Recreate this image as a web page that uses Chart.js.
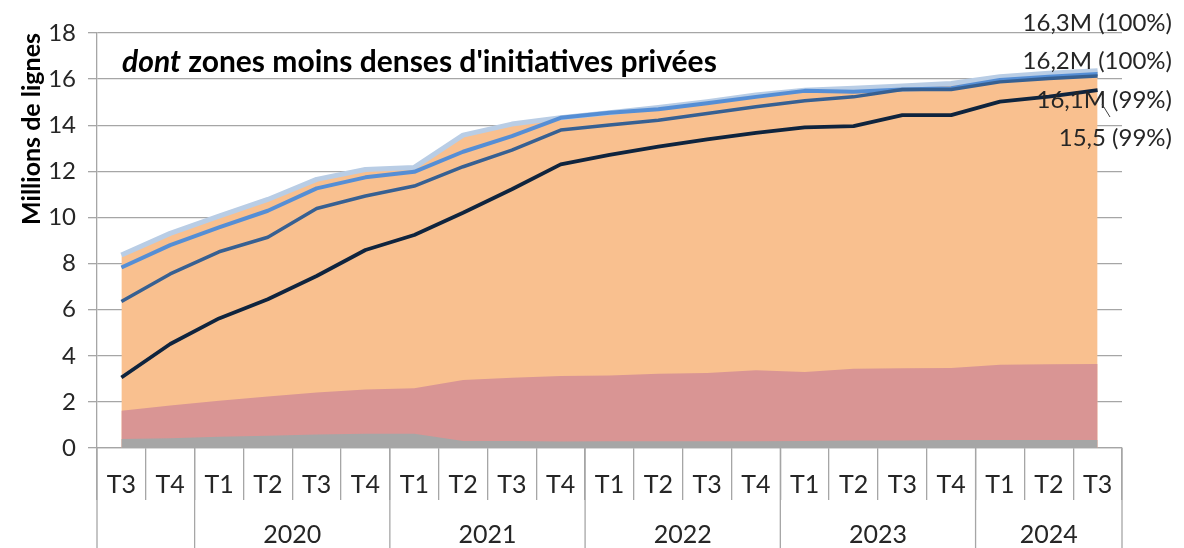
<!DOCTYPE html>
<html>
<head>
<meta charset="utf-8">
<script src="https://cdn.jsdelivr.net/npm/chart.js@4"></script>
<style>
  body { margin: 0; background: #fff; }
  canvas { display: block; }
</style>
</head>
<body>
<canvas id="chart" width="1184" height="548"></canvas>
<script>
// Quarters from T3 2019 to T3 2024
const quarters = ["T3", "T4", "T1", "T2", "T3", "T4", "T1", "T2", "T3", "T4", "T1", "T2", "T3", "T4", "T1", "T2", "T3", "T4", "T1", "T2", "T3"];
const yearLabels = ["", "2020", "2021", "2022", "2023", "2024"];
const yearSpans = [2, 4, 4, 4, 4, 3];

// Areas (millions de lignes)
const greyArea = [0.39, 0.42, 0.49, 0.53, 0.59, 0.62, 0.62, 0.30, 0.30, 0.28, 0.29, 0.29, 0.29, 0.29, 0.30, 0.32, 0.32, 0.35, 0.35, 0.35, 0.35];
const pinkArea = [1.62, 1.84, 2.05, 2.23, 2.41, 2.54, 2.59, 2.95, 3.05, 3.12, 3.14, 3.22, 3.25, 3.37, 3.30, 3.44, 3.46, 3.47, 3.61, 3.63, 3.64];

// Lines
const totalLine = [8.37, 9.31, 10.06, 10.78, 11.65, 12.08, 12.17, 13.57, 14.05, 14.32, 14.54, 14.77, 15.02, 15.31, 15.52, 15.60, 15.70, 15.81, 16.10, 16.25, 16.36];
const lineBlue = [7.83, 8.80, 9.57, 10.29, 11.26, 11.74, 11.98, 12.85, 13.53, 14.32, 14.54, 14.69, 14.95, 15.23, 15.49, 15.45, 15.55, 15.60, 15.96, 16.10, 16.22];
const lineDarkBlue = [6.35, 7.55, 8.51, 9.14, 10.39, 10.93, 11.36, 12.20, 12.92, 13.79, 14.01, 14.22, 14.51, 14.80, 15.06, 15.23, 15.55, 15.55, 15.88, 16.03, 16.13];
const lineBlack = [3.06, 4.51, 5.62, 6.45, 7.46, 8.59, 9.24, 10.20, 11.22, 12.30, 12.71, 13.07, 13.39, 13.67, 13.91, 13.96, 14.44, 14.44, 15.02, 15.24, 15.52];

const endLabels = ["16,3M (100%)", "16,2M (100%)", "16,1M (99%)", "15,5 (99%)"];
const titleItalic = "dont";
const titleRest = " zones moins denses d'initiatives privées";

const FONT = "Lato, 'Liberation Sans', sans-serif";
const TEXT = "#262626";
const GRID = "#a6a6a6";

function area(data, color, order) {
    return {
        data: data, backgroundColor: color, borderWidth: 0, fill: "origin",
        pointRadius: 0, tension: 0, order: order
    };
}
function line(data, color, width, order) {
    return {
        data: data, borderColor: color, borderWidth: width, fill: false,
        pointRadius: 0, tension: 0, order: order, borderJoinStyle: "round"
    };
}

// Year row under the quarters + title + end labels
const extras = {
    id: "extras",
    afterDraw(chart) {
        const ctx = chart.ctx;
        const x = chart.scales.x;
        const area = chart.chartArea;
        const half = (x.getPixelForValue(1) - x.getPixelForValue(0)) / 2;

        ctx.save();
        ctx.strokeStyle = GRID;
        ctx.lineWidth = 1.3;
        ctx.fillStyle = TEXT;
        ctx.font = "25px " + FONT;
        ctx.textAlign = "center";
        ctx.textBaseline = "middle";
        let start = 0;
        for (let g = 0; g <= yearSpans.length; g++) {
            let bx = x.getPixelForValue(start) - half;
            ctx.beginPath();
            ctx.moveTo(bx, area.bottom);
            ctx.lineTo(bx, chart.height);
            ctx.stroke();
            if (g < yearSpans.length) {
                let end = start + yearSpans[g] - 1;
                let cx = (x.getPixelForValue(start) + x.getPixelForValue(end)) / 2;
                ctx.fillText(yearLabels[g], cx, 535);
                start += yearSpans[g];
            }
        }

        // title inside the plot
        ctx.fillStyle = "#000";
        ctx.textAlign = "left";
        ctx.textBaseline = "alphabetic";
        ctx.font = "italic bold 30px " + FONT;
        let tx = area.left + 25;
        ctx.fillText(titleItalic, tx, 72);
        tx += ctx.measureText(titleItalic).width;
        ctx.font = "bold 30px " + FONT;
        ctx.fillText(titleRest, tx, 72);

        // labels at the end of the series
        ctx.fillStyle = TEXT;
        ctx.font = "24px " + FONT;
        ctx.textAlign = "right";
        ctx.textBaseline = "middle";
        const ys = [23, 61, 100, 138];
        endLabels.forEach((t, i) => ctx.fillText(t, 1172, ys[i]));

        ctx.strokeStyle = "#404040";
        ctx.lineWidth = 1;
        ctx.beginPath();
        ctx.moveTo(1102, 104);
        ctx.lineTo(1110, 117);
        ctx.stroke();
        ctx.restore();
    }
};

new Chart(document.getElementById("chart"), {
    type: "line",
    data: {
        labels: quarters,
        datasets: [
            line(lineBlack, "#0f243e", 3.8, 0),
            line(lineDarkBlue, "#376092", 3.5, 1),
            line(lineBlue, "#558ed5", 4, 2),
            line(totalLine, "#b9cde5", 5, 3),
            area(greyArea, "#a6a6a6", 4),
            area(pinkArea, "#d99594", 5),
            area(totalLine, "#f9c08f", 6)
        ]
    },
    options: {
        responsive: false,
        animation: false,
        devicePixelRatio: 1,
        layout: { padding: { top: 33, right: 62, left: 14, bottom: 0 } },
        plugins: { legend: { display: false }, tooltip: { enabled: false } },
        scales: {
            x: {
                offset: true,
                grid: { offset: true, drawOnChartArea: false, tickLength: 52, color: GRID, lineWidth: 1.3 },
                border: { color: GRID, width: 1.3 },
                ticks: { color: TEXT, font: { family: FONT, size: 25 }, padding: -30, maxRotation: 0, autoSkip: false },
                afterFit: s => { s.height = 100; }
            },
            y: {
                min: 0, max: 18,
                ticks: { stepSize: 2, color: TEXT, font: { family: FONT, size: 24 }, padding: 12 },
                grid: { color: GRID, lineWidth: 1.3, tickLength: 9 },
                border: { color: GRID, width: 1.3 },
                title: {
                    display: true, text: "Millions de lignes", align: "end", color: "#000",
                    font: { family: FONT, size: 25, weight: "bold" }, padding: { top: 3, bottom: 0 }
                },
                afterFit: s => { s.width = 83; }
            }
        }
    },
    plugins: [extras]
});
</script>
</body>
</html>
